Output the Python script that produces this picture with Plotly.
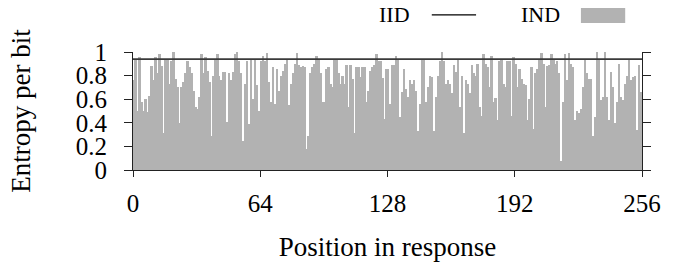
import plotly.graph_objects as go

# Entropy per bit for each of the 256 response positions (IND model)
ind_0_31 = [0.76, 0.94, 0.50, 0.96, 0.58, 0.50, 0.60, 0.49, 0.63, 0.88, 0.76, 0.96, 0.82, 0.98, 0.88, 0.31,
            0.94, 0.93, 0.73, 0.92, 1.00, 0.77, 0.70, 0.40, 0.70, 0.75, 0.82, 0.92, 0.87, 0.82, 0.67, 0.53]
ind_32_63 = [0.52, 0.62, 0.98, 0.82, 0.96, 0.84, 0.75, 0.29, 0.80, 0.94, 0.98, 0.80, 0.76, 0.83, 0.83, 0.41,
             0.82, 0.76, 0.83, 0.98, 1.00, 0.92, 0.82, 0.25, 0.73, 0.92, 0.39, 0.93, 0.60, 0.94, 0.72, 0.50]
ind_64_95 = [0.92, 0.97, 0.92, 0.99, 0.75, 0.58, 0.87, 0.56, 0.86, 0.67, 0.80, 0.84, 0.90, 0.93, 0.55, 0.73,
             0.82, 0.90, 0.99, 0.89, 0.87, 0.88, 0.87, 0.18, 0.29, 0.82, 0.87, 0.90, 0.97, 0.93, 0.82, 0.58]
ind_96_127 = [0.58, 0.86, 0.87, 0.73, 0.70, 0.93, 0.93, 0.82, 0.73, 0.80, 0.73, 0.89, 0.53, 0.89, 0.77, 0.31,
              0.87, 0.87, 0.79, 0.87, 0.87, 0.58, 0.67, 0.84, 0.87, 0.89, 0.98, 0.92, 0.92, 0.78, 0.43, 0.86]
ind_128_159 = [0.86, 0.56, 0.89, 0.89, 0.97, 0.94, 0.45, 0.66, 0.86, 0.69, 0.62, 0.76, 0.73, 0.76, 0.67, 0.33,
               0.56, 0.94, 0.94, 0.58, 0.70, 0.80, 0.79, 0.33, 0.62, 0.80, 0.92, 1.00, 0.92, 0.73, 0.76, 0.73]
ind_160_191 = [0.65, 0.89, 0.83, 0.94, 0.53, 0.80, 0.31, 0.76, 0.73, 0.65, 0.89, 0.82, 0.80, 0.90, 0.53, 0.46,
               0.98, 0.90, 0.87, 0.70, 0.97, 0.58, 0.61, 0.42, 0.92, 0.94, 0.73, 0.70, 0.92, 0.92, 0.46, 0.96]
ind_192_223 = [0.90, 0.70, 0.86, 0.77, 0.73, 0.72, 0.42, 0.60, 0.87, 0.35, 0.82, 0.86, 0.94, 0.99, 0.90, 0.53,
               0.88, 0.89, 0.98, 0.93, 0.90, 0.92, 0.82, 0.08, 0.58, 0.98, 0.76, 0.99, 0.90, 0.87, 0.42, 0.50]
ind_224_255 = [0.48, 0.52, 0.70, 0.93, 0.82, 0.77, 0.77, 0.29, 0.45, 1.00, 0.93, 0.59, 0.62, 1.00, 0.62, 0.42,
               0.83, 0.70, 0.40, 0.58, 0.90, 0.62, 0.59, 0.73, 0.80, 0.94, 0.76, 0.79, 0.80, 0.34, 0.89, 0.66]

ind_values = (ind_0_31 + ind_32_63 + ind_64_95 + ind_96_127 +
              ind_128_159 + ind_160_191 + ind_192_223 + ind_224_255)
positions = [i + 0.5 for i in range(len(ind_values))]

iid_value = 0.94
iid_x = [0, 256]

x_ticks = [0, 64, 128, 192, 256]
y_ticks = [0, 0.2, 0.4, 0.6, 0.8, 1]
y_tick_labels = ["0", "0.2", "0.4", "0.6", "0.8", "1"]

FONT = "Liberation Serif"
BAR_COLOR = "#b2b2b2"
LINE_COLOR = "#3a3a3a"
AXIS_COLOR = "#222222"
CLEAR = "rgba(0,0,0,0)"


def serif(size):
    return dict(family=FONT, size=size, color="black")


fig = go.Figure()
fig.add_trace(go.Bar(x=positions, y=ind_values, width=1.0,
                     marker=dict(color=BAR_COLOR, line=dict(width=0)),
                     name="IND", showlegend=False))
fig.add_trace(go.Scatter(x=iid_x, y=[iid_value] * len(iid_x), mode="lines",
                         line=dict(color=LINE_COLOR, width=1.6),
                         name="IID", showlegend=False, cliponaxis=False))

fig.update_layout(
    width=688, height=268,
    margin=dict(l=133, r=46, t=52, b=98),
    paper_bgcolor="white", plot_bgcolor="white",
    font=serif(25),
    bargap=0,
    showlegend=False,
    modebar=dict(bgcolor=CLEAR, color=CLEAR, activecolor=CLEAR),
    xaxis=dict(range=[0, 256], tickvals=x_ticks, ticktext=[str(t) for t in x_ticks],
               showgrid=False, zeroline=False, showline=True, linecolor=AXIS_COLOR, linewidth=1,
               ticks="outside", ticklen=6, tickcolor=AXIS_COLOR, ticklabelstandoff=5,
               tickfont=serif(25), automargin=False,
               title=dict(text="Position in response", standoff=21, font=serif(27))),
    yaxis=dict(range=[0, 1], tickvals=y_ticks, ticktext=y_tick_labels,
               showgrid=False, zeroline=False, showline=True, mirror="ticks",
               linecolor=AXIS_COLOR, linewidth=1,
               ticks="outside", ticklen=8, tickcolor=AXIS_COLOR, ticklabelstandoff=12,
               tickfont=serif(25), automargin=False,
               title=dict(text="Entropy per bit", standoff=37, font=serif(27))),
)

# gnuplot-style key: label followed by sample
fig.add_annotation(x=0.548, y=1.314, xref="paper", yref="paper", text="IID",
                   showarrow=False, xanchor="right", yanchor="middle", font=serif(22))
fig.add_shape(type="line", xref="paper", yref="paper", x0=0.587, x1=0.674, y0=1.314, y1=1.314,
              line=dict(color="black", width=1.2))
fig.add_annotation(x=0.843, y=1.314, xref="paper", yref="paper", text="IND",
                   showarrow=False, xanchor="right", yanchor="middle", font=serif(22))
fig.add_shape(type="rect", xref="paper", yref="paper", x0=0.880, x1=0.967, y0=1.246, y1=1.373,
              line=dict(width=0), fillcolor=BAR_COLOR)

fig.write_html("out.html", config={"displayModeBar": False},
               post_script="document.body.style.margin='0';")
